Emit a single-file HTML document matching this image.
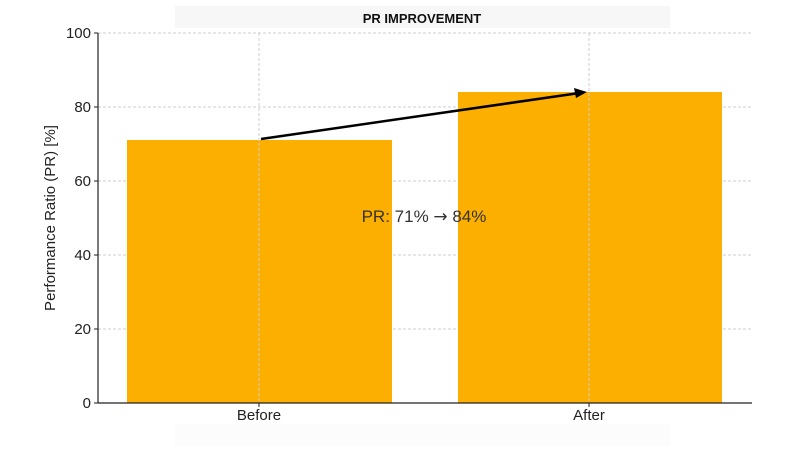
<!DOCTYPE html>
<html><head><meta charset="utf-8"><style>body{margin:0;background:#fff}svg{display:block}</style></head><body>
<svg width="795" height="450" xmlns="http://www.w3.org/2000/svg" font-family="Liberation Sans, DejaVu Sans, sans-serif">
<rect x="175" y="6" width="495" height="22" fill="#f7f7f7"/>
<rect x="175" y="424" width="495" height="22" fill="#fcfcfc"/>
<text x="422" y="23" text-anchor="middle" font-size="13" font-weight="bold" fill="#111">PR IMPROVEMENT</text>
<g stroke="#ccc" stroke-width="1" stroke-dasharray="3,2">
<line x1="98" y1="33" x2="752" y2="33"/><line x1="98" y1="107" x2="752" y2="107"/>
<line x1="98" y1="181" x2="752" y2="181"/><line x1="98" y1="255" x2="752" y2="255"/>
<line x1="98" y1="329" x2="752" y2="329"/>
</g>
<rect x="127" y="140" width="265" height="263" fill="#fdaf00"/>
<rect x="458" y="92" width="264" height="311" fill="#fdaf00"/>
<g stroke="#ccc" stroke-width="1" stroke-dasharray="3,2">
<line x1="259" y1="33" x2="259" y2="403"/><line x1="589" y1="33" x2="589" y2="403"/>
</g>
<line x1="98" y1="33" x2="98" y2="403" stroke="#222" stroke-width="1.2"/>
<line x1="98" y1="403" x2="752" y2="403" stroke="#222" stroke-width="1.2"/>
<g stroke="#222"><line x1="94" y1="33" x2="98" y2="33"/><line x1="94" y1="107" x2="98" y2="107"/><line x1="94" y1="181" x2="98" y2="181"/><line x1="94" y1="255" x2="98" y2="255"/><line x1="94" y1="329" x2="98" y2="329"/><line x1="94" y1="403" x2="98" y2="403"/><line x1="259" y1="403" x2="259" y2="407"/><line x1="589" y1="403" x2="589" y2="407"/></g>
<g font-size="15" fill="#222" text-anchor="end">
<text x="91" y="38">100</text><text x="91" y="112">80</text><text x="91" y="186">60</text><text x="91" y="260">40</text><text x="91" y="334">20</text><text x="91" y="408">0</text>
</g>
<g font-size="15" fill="#222" text-anchor="middle">
<text x="259" y="420">Before</text><text x="589" y="420">After</text>
</g>
<text transform="translate(55,218) rotate(-90)" font-size="15" fill="#222" text-anchor="middle">Performance Ratio (PR) [%]</text>
<line x1="261" y1="139" x2="576" y2="93.5" stroke="#000" stroke-width="2.5"/>
<polygon points="587,92 574,88 576,98" fill="#000"/>
<text x="424" y="222" font-size="17" fill="#333" text-anchor="middle">PR: 71% <tspan font-family="DejaVu Sans, sans-serif">→</tspan> 84%</text>
</svg>
</body></html>
